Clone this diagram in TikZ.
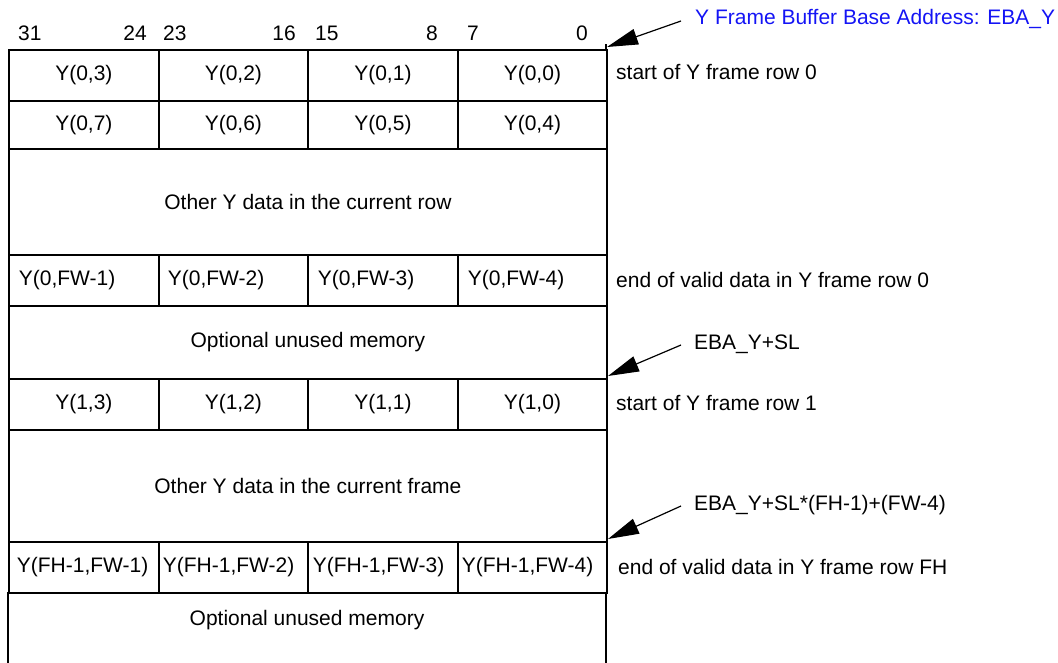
\documentclass[tikz,border=0pt]{standalone}
\usepackage{fontspec}
\setmainfont{Liberation Sans}
\usetikzlibrary{arrows.meta}
\begin{document}
\begin{tikzpicture}[x=1pt,y=-1pt,
  every node/.style={font=\fontsize{21}{25}\selectfont},
  cellbox/.style={draw, line width=1.8pt, inner sep=0pt, anchor=north west},
  narrow/.style={cellbox, minimum height=#1},
  lefttext/.style 2 args={cellbox, minimum height=51pt, text width=#1, align=left, inner xsep=#2},
  bitlbl/.style={inner sep=0pt},
  sidelbl/.style={anchor=west, inner sep=0pt},
  ptr/.style={line width=1.2pt, -{Triangle[length=31pt,width=16pt]}}
]
\useasboundingbox (0,0) rectangle (1058,662);
% bit numbers
\node[bitlbl, anchor=west] (b31) at (18,33) {31};
\node[bitlbl, anchor=east] (b24) at (147,33) {24};
\node[bitlbl, anchor=west] (b23) at (163,33) {23};
\node[bitlbl, anchor=east] (b16) at (296,33) {16};
\node[bitlbl, anchor=west] (b15) at (315,33) {15};
\node[bitlbl, anchor=east] (b8) at (438,33) {8};
\node[bitlbl, anchor=west] (b7) at (467,33) {7};
\node[bitlbl, anchor=east] (b0) at (588,33) {0};
% row 1
\node[narrow=51pt, minimum width=150pt] (c03) at (8,49) {Y(0,3)};
\node[narrow=51pt, minimum width=149pt] (c02) at (158,49) {Y(0,2)};
\node[narrow=51pt, minimum width=150pt] (c01) at (307,49) {Y(0,1)};
\node[narrow=51pt, minimum width=149pt] (c00) at (457,49) {Y(0,0)};
% row 2
\node[narrow=48pt, minimum width=150pt] (c07) at (8,100) {Y(0,7)};
\node[narrow=48pt, minimum width=149pt] (c06) at (158,100) {Y(0,6)};
\node[narrow=48pt, minimum width=150pt] (c05) at (307,100) {Y(0,5)};
\node[narrow=48pt, minimum width=149pt] (c04) at (457,100) {Y(0,4)};
% row 3
\node[narrow=106pt, minimum width=598pt] (other1) at (8,148) {Other Y data in the current row};
% row 4
\node[lefttext={140pt}{5pt}, minimum width=150pt] (f1) at (8,254) {\hspace*{5pt}Y(0,FW-1)};
\node[lefttext={139pt}{5pt}, minimum width=149pt] (f2) at (158,254) {\hspace*{4pt}Y(0,FW-2)};
\node[lefttext={140pt}{5pt}, minimum width=150pt] (f3) at (307,254) {\hspace*{5pt}Y(0,FW-3)};
\node[lefttext={139pt}{5pt}, minimum width=149pt] (f4) at (457,254) {\hspace*{5pt}Y(0,FW-4)};
% row 5
\node[narrow=73pt, minimum width=598pt] (unused1) at (8,305) {Optional unused memory};
% row 6
\node[narrow=51pt, minimum width=150pt] (c13) at (8,378) {Y(1,3)};
\node[narrow=51pt, minimum width=149pt] (c12) at (158,378) {Y(1,2)};
\node[narrow=51pt, minimum width=150pt] (c11) at (307,378) {Y(1,1)};
\node[narrow=51pt, minimum width=149pt] (c10) at (457,378) {Y(1,0)};
% row 7
\node[narrow=112pt, minimum width=598pt] (other2) at (8,429) {Other Y data in the current frame};
% row 8
\node[lefttext={146pt}{2pt}, minimum width=150pt] (h1) at (8,541) {\hspace*{6pt}Y(FH-1,FW-1)};
\node[lefttext={145pt}{2pt}, minimum width=149pt] (h2) at (158,541) {\hspace*{2pt}Y(FH-1,FW-2)};
\node[lefttext={146pt}{2pt}, minimum width=150pt] (h3) at (307,541) {\hspace*{3pt}Y(FH-1,FW-3)};
\node[lefttext={145pt}{2pt}, minimum width=149pt] (h4) at (457,541) {\hspace*{2pt}Y(FH-1,FW-4)};
% row 9 (open bottom)
\draw[line width=1.8pt] (8,592) -- (8,663);
\draw[line width=1.8pt] (606,592) -- (606,663);
\node (unused2) at (307,620) {Optional unused memory};
% right edge stub above top
\draw[line width=1.8pt] (606,44) -- (606,50);
% right side labels
\node[sidelbl] (s0) at (616,72) {start of Y frame row 0};
\node[sidelbl] (e0) at (616,280) {end of valid data in Y frame row 0};
\node[sidelbl] (s1) at (616,403) {start of Y frame row 1};
\node[sidelbl] (eh) at (618,567) {end of valid data in Y frame row FH};
\node[sidelbl, text={rgb,255:red,20;green,20;blue,245}] (base) at (695,19) {Y Frame Buffer Base Address: EBA\_Y};
\node[sidelbl] (sl) at (694,344) {EBA\_Y+SL};
\node[sidelbl] (slfh) at (694,505) {EBA\_Y+SL*(FH-1)+(FW-4)};
\coordinate (p0) at (607,47);
\coordinate (p1) at (608,376);
\coordinate (p2) at (608,539);
\draw[ptr] ([xshift=-14pt,yshift=-2pt]base.west) -- (p0);
\draw[ptr] ([xshift=-13pt,yshift=-1pt]sl.west) -- (p1);
\draw[ptr] ([xshift=-13pt,yshift=-1pt]slfh.west) -- (p2);
\end{tikzpicture}
\end{document}
